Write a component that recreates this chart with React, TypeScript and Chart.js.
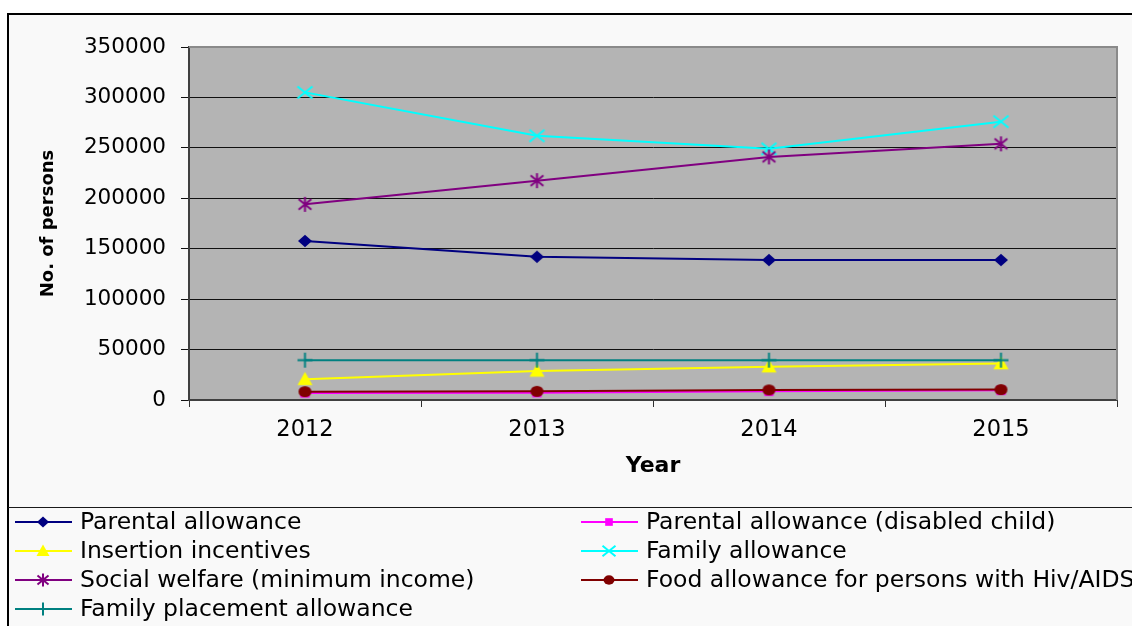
import React, { useEffect, useRef } from 'react';
import { Chart, registerables } from 'chart.js';

Chart.register(...registerables);

const categories = ['2012', '2013', '2014', '2015'];
const parentalAllowance = [157700, 142000, 138800, 138800];
const parentalDisabled = [7000, 7200, 8600, 9600];
const insertionIncentives = [20500, 28800, 33000, 36100];
const familyAllowance = [305000, 262000, 249000, 276000];
const socialWelfare = [194000, 217500, 241000, 254000];
const foodAllowance = [8300, 8600, 10000, 10300];
const familyPlacement = [39500, 39500, 39500, 39500];

const seriesNames = [
  'Parental allowance',
  'Parental allowance (disabled child)',
  'Insertion incentives',
  'Family allowance',
  'Social welfare (minimum income)',
  'Food allowance for persons with Hiv/AIDS',
  'Family placement allowance',
];
const seriesValues = [
  parentalAllowance,
  parentalDisabled,
  insertionIncentives,
  familyAllowance,
  socialWelfare,
  foodAllowance,
  familyPlacement,
];
const seriesColors = ['#000080', '#ff00ff', '#ffff00', '#00ffff', '#800080', '#800000', '#008080'];
const seriesMarkers = ['rectRot', 'rect', 'triangle', 'crossRot', 'asterisk', 'circle', 'cross'];
const seriesRadius = [7, 5.5, 7.5, 7.5, 7.5, 6.5, 7.5];

const yMin = 0;
const yMax = 350000;
const yStep = 50000;

const FONT = '"DejaVu Sans", sans-serif';

function drawMarker(ctx: CanvasRenderingContext2D, style: string, x: number, y: number, r: number, color: string) {
  ctx.save();
  ctx.fillStyle = color;
  ctx.strokeStyle = color;
  ctx.lineWidth = 2;
  ctx.beginPath();
  switch (style) {
    case 'rectRot':
      ctx.moveTo(x, y - r * 0.9);
      ctx.lineTo(x + r, y);
      ctx.lineTo(x, y + r * 0.9);
      ctx.lineTo(x - r, y);
      ctx.closePath();
      ctx.fill();
      break;
    case 'rect':
      ctx.fillRect(x - r * 0.85, y - r * 0.85, r * 1.7, r * 1.7);
      break;
    case 'triangle':
      ctx.moveTo(x, y - r);
      ctx.lineTo(x + r, y + r * 0.75);
      ctx.lineTo(x - r, y + r * 0.75);
      ctx.closePath();
      ctx.fill();
      break;
    case 'crossRot':
      ctx.moveTo(x - r, y - r * 0.8);
      ctx.lineTo(x + r, y + r * 0.8);
      ctx.moveTo(x + r, y - r * 0.8);
      ctx.lineTo(x - r, y + r * 0.8);
      ctx.stroke();
      break;
    case 'asterisk':
      ctx.moveTo(x - r * 0.85, y - r * 0.7);
      ctx.lineTo(x + r * 0.85, y + r * 0.7);
      ctx.moveTo(x + r * 0.85, y - r * 0.7);
      ctx.lineTo(x - r * 0.85, y + r * 0.7);
      ctx.moveTo(x, y - r);
      ctx.lineTo(x, y + r);
      ctx.stroke();
      break;
    case 'circle':
      ctx.ellipse(x, y, r, r * 0.85, 0, 0, Math.PI * 2);
      ctx.fill();
      break;
    case 'cross':
      ctx.moveTo(x - r, y);
      ctx.lineTo(x + r, y);
      ctx.moveTo(x, y - r);
      ctx.lineTo(x, y + r);
      ctx.stroke();
      break;
  }
  ctx.restore();
}

function makeMarkerImage(style: string, r: number, color: string): HTMLCanvasElement {
  const size = Math.ceil(r * 2 + 4);
  const c = document.createElement('canvas');
  c.width = size;
  c.height = size;
  const ctx = c.getContext('2d')!;
  drawMarker(ctx, style, size / 2, size / 2, r, color);
  return c;
}

const framePlugin = {
  id: 'frame',
  beforeDraw(chart: any) {
    const { ctx, width, height, chartArea } = chart;
    ctx.save();
    ctx.fillStyle = '#ffffff';
    ctx.fillRect(0, 0, width, height);
    ctx.fillStyle = '#f9f9f9';
    ctx.fillRect(8, 14, width - 8, height - 14);
    ctx.fillStyle = '#b4b4b4';
    ctx.fillRect(chartArea.left, chartArea.top, chartArea.right - chartArea.left, chartArea.bottom - chartArea.top);
    ctx.restore();
  },
  afterDraw(chart: any) {
    const { ctx, width, chartArea } = chart;
    ctx.save();
    // plot frame (top/right)
    ctx.strokeStyle = '#8a8a8a';
    ctx.lineWidth = 2;
    ctx.beginPath();
    ctx.moveTo(chartArea.left, chartArea.top);
    ctx.lineTo(chartArea.right, chartArea.top);
    ctx.lineTo(chartArea.right, chartArea.bottom);
    ctx.stroke();
    // outer border
    ctx.strokeStyle = '#000000';
    ctx.lineWidth = 2;
    ctx.beginPath();
    ctx.moveTo(8, 640);
    ctx.lineTo(8, 14);
    ctx.lineTo(width + 5, 14);
    ctx.stroke();
    // legend separator
    ctx.strokeStyle = '#1a1a1a';
    ctx.lineWidth = 1;
    ctx.beginPath();
    ctx.moveTo(8, 507.5);
    ctx.lineTo(width, 507.5);
    ctx.stroke();
    // legend
    ctx.font = `23.5px ${FONT}`;
    ctx.textBaseline = 'middle';
    ctx.textAlign = 'left';
    const colX = [15, 581];
    const rowY = [522, 551, 580, 609];
    seriesNames.forEach((name, i) => {
      const cx = colX[i % 2];
      const cy = rowY[Math.floor(i / 2)];
      ctx.strokeStyle = seriesColors[i];
      ctx.lineWidth = 2;
      ctx.beginPath();
      ctx.moveTo(cx, cy);
      ctx.lineTo(cx + 57, cy);
      ctx.stroke();
      drawMarker(ctx, seriesMarkers[i], cx + 28, cy, seriesRadius[i] - 1, seriesColors[i]);
      ctx.fillStyle = '#000000';
      ctx.fillText(name, cx + 65, cy + 1);
    });
    ctx.restore();
  },
};

export default function App() {
  const canvasRef = useRef<HTMLCanvasElement | null>(null);

  useEffect(() => {
    const canvas = canvasRef.current;
    if (!canvas) return;
    const datasets = seriesNames.map((name, i) => {
      const style = seriesMarkers[i];
      const img = makeMarkerImage(style, seriesRadius[i], seriesColors[i]);
      return {
        label: name,
        data: seriesValues[i],
        borderColor: seriesColors[i],
        backgroundColor: seriesColors[i],
        borderWidth: 2,
        pointStyle: img as any,
        pointRadius: seriesRadius[i],
        pointHoverRadius: seriesRadius[i],
        tension: 0,
        fill: false,
        order: seriesNames.length - i,
      };
    });
    const chart = new Chart(canvas, {
      type: 'line',
      data: { labels: categories, datasets },
      plugins: [framePlugin],
      options: {
        responsive: false,
        animation: false,
        events: [],
        layout: { padding: { left: 0, top: 47, right: 15, bottom: 0 } },
        plugins: {
          legend: { display: false },
          tooltip: { enabled: false },
          title: { display: false },
        },
        scales: {
          x: {
            type: 'category',
            offset: true,
            afterFit(scale: any) {
              scale.height = 226;
            },
            border: { display: true, color: '#404040', width: 2 },
            grid: {
              display: true,
              offset: true,
              drawOnChartArea: false,
              drawTicks: true,
              tickLength: 7,
              color: '#303030',
              lineWidth: 1,
            },
            ticks: {
              color: '#000000',
              font: { family: FONT, size: 22.5 },
              padding: 10,
              maxRotation: 0,
            },
            title: {
              display: true,
              text: 'Year',
              color: '#000000',
              font: { family: FONT, size: 22, weight: 'bold' },
              padding: { top: 0, bottom: 147 },
            },
          },
          y: {
            type: 'linear',
            min: yMin,
            max: yMax,
            afterFit(scale: any) {
              scale.width = 189;
            },
            border: { display: true, color: '#404040', width: 2 },
            grid: {
              display: true,
              drawOnChartArea: true,
              drawTicks: true,
              tickLength: 8,
              color: '#111111',
              lineWidth: 1,
            },
            ticks: {
              stepSize: yStep,
              color: '#000000',
              font: { family: FONT, size: 21.5 },
              padding: 15,
              callback: (v: any) => String(v),
            },
            title: {
              display: true,
              text: 'No. of persons',
              color: '#000000',
              font: { family: FONT, size: 18, weight: 'bold' },
              padding: { top: 38, bottom: 0 },
            },
          },
        },
      },
    });
    return () => chart.destroy();
  }, []);

  return (
    <div style={{ position: 'fixed', left: 0, top: 0, width: 1132, height: 626 }}>
      <canvas ref={canvasRef} width={1132} height={626} style={{ display: 'block', width: 1132, height: 626 }} />
    </div>
  );
}
